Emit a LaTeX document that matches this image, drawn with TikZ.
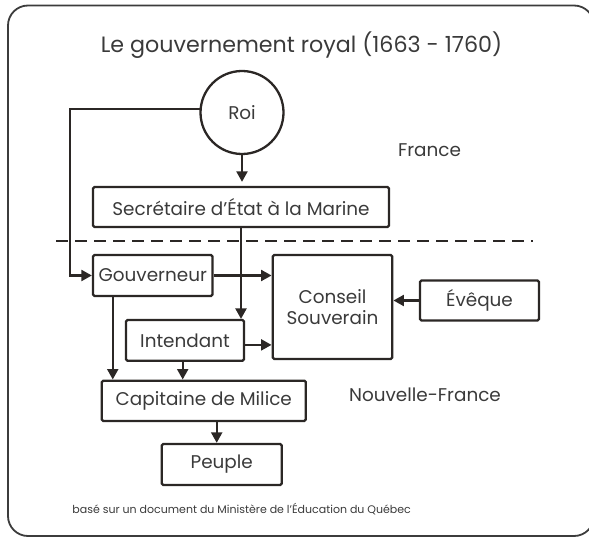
\documentclass[tikz,border=0pt]{standalone}
\usepackage{fontspec}
\setmainfont{Poppins}
\usetikzlibrary{arrows.meta}
\definecolor{ink}{HTML}{2B2725}
\definecolor{txt}{HTML}{3A3A3A}
\definecolor{frame}{HTML}{3C3C3C}
\newcommand{\boxfont}{\fontsize{18.4}{21}\selectfont}
\tikzset{
  box/.style={draw=ink, line width=2.3pt, rounded corners=1.5pt, inner sep=0pt, text=txt, font=\boxfont, align=center},
  arr/.style={draw=ink, line width=2.2pt, -{Triangle[length=10.5pt,width=11pt]}},
  lbl/.style={text=txt, font=\boxfont, inner sep=0pt},
}
\begin{document}
\begin{tikzpicture}[x=1pt,y=-1pt]
\useasboundingbox (0,0) rectangle (589,537);
\clip (0,0) rectangle (589,537);
\draw[frame, line width=1.8pt, rounded corners=20pt] (8,5.5) rectangle (594,536);
\node[text=txt, font=\fontsize{22.2}{26}\selectfont, inner sep=0pt] (title) at (301.5,45) {Le gouvernement royal (1663 - 1760)};
\node[box, circle, minimum size=83pt, rounded corners=0pt] (roi) at (242,112.5) {Roi};
\node[lbl] (fr) at (429.5,150) {France};
\node[box, minimum width=296pt, minimum height=40pt] (sec) at (241,207) {Secrétaire d’État à la Marine};
\coordinate (dl) at (56,241);
\coordinate (dr) at (533,241);
\draw[ink, line width=2.2pt, dash pattern=on 12pt off 7pt] (dl) -- (dr);
\node[box, minimum width=119.5pt, minimum height=41pt] (gouv) at (152.75,275.5) {Gouverneur};
\node[box, minimum width=119.6pt, minimum height=104pt] (cons) at (332.5,307) {Conseil\\Souverain};
\node[box, minimum width=119pt, minimum height=40pt] (eveq) at (479.5,300.5) {Évêque};
\node[box, minimum width=118pt, minimum height=40.7pt] (int) at (185,340.4) {Intendant};
\node[box, minimum width=204pt, minimum height=40.3pt] (cap) at (203.8,400.8) {Capitaine de Milice};
\node[box, minimum width=120pt, minimum height=41pt] (peu) at (221.7,464.5) {Peuple};
\node[lbl] (nf) at (425,395) {Nouvelle-France};
\node[text=txt, font=\fontsize{11}{13}\selectfont, inner sep=0pt] (src) at (241.7,509) {basé sur un document du Ministère de l’Éducation du Québec};
\coordinate (lc) at (70,0);
\draw[arr] (roi.175) -- (roi.175 -| lc) |- (gouv.west);
\draw[arr, shorten >=4pt] (roi.south) -- (roi.south |- sec.north);
\draw[arr] (sec.south) -- (sec.south |- int.north);
\draw[arr] (gouv.east) -- (gouv.east -| cons.west);
\draw[arr] ([yshift=-4.5pt]int.east) -- ([yshift=-4.5pt]int.east -| cons.west);
\draw[arr] (eveq.west) -- (eveq.west -| cons.east);
\draw[arr] ([xshift=-40pt]gouv.south) -- ([xshift=-40pt]gouv.south |- cap.north);
\draw[arr] ([xshift=-2.3pt]int.south) -- ([xshift=-2.3pt]int.south |- cap.north);
\draw[arr] ([xshift=-5pt]peu.north |- cap.south) -- ([xshift=-5pt]peu.north);
\end{tikzpicture}
\end{document}
